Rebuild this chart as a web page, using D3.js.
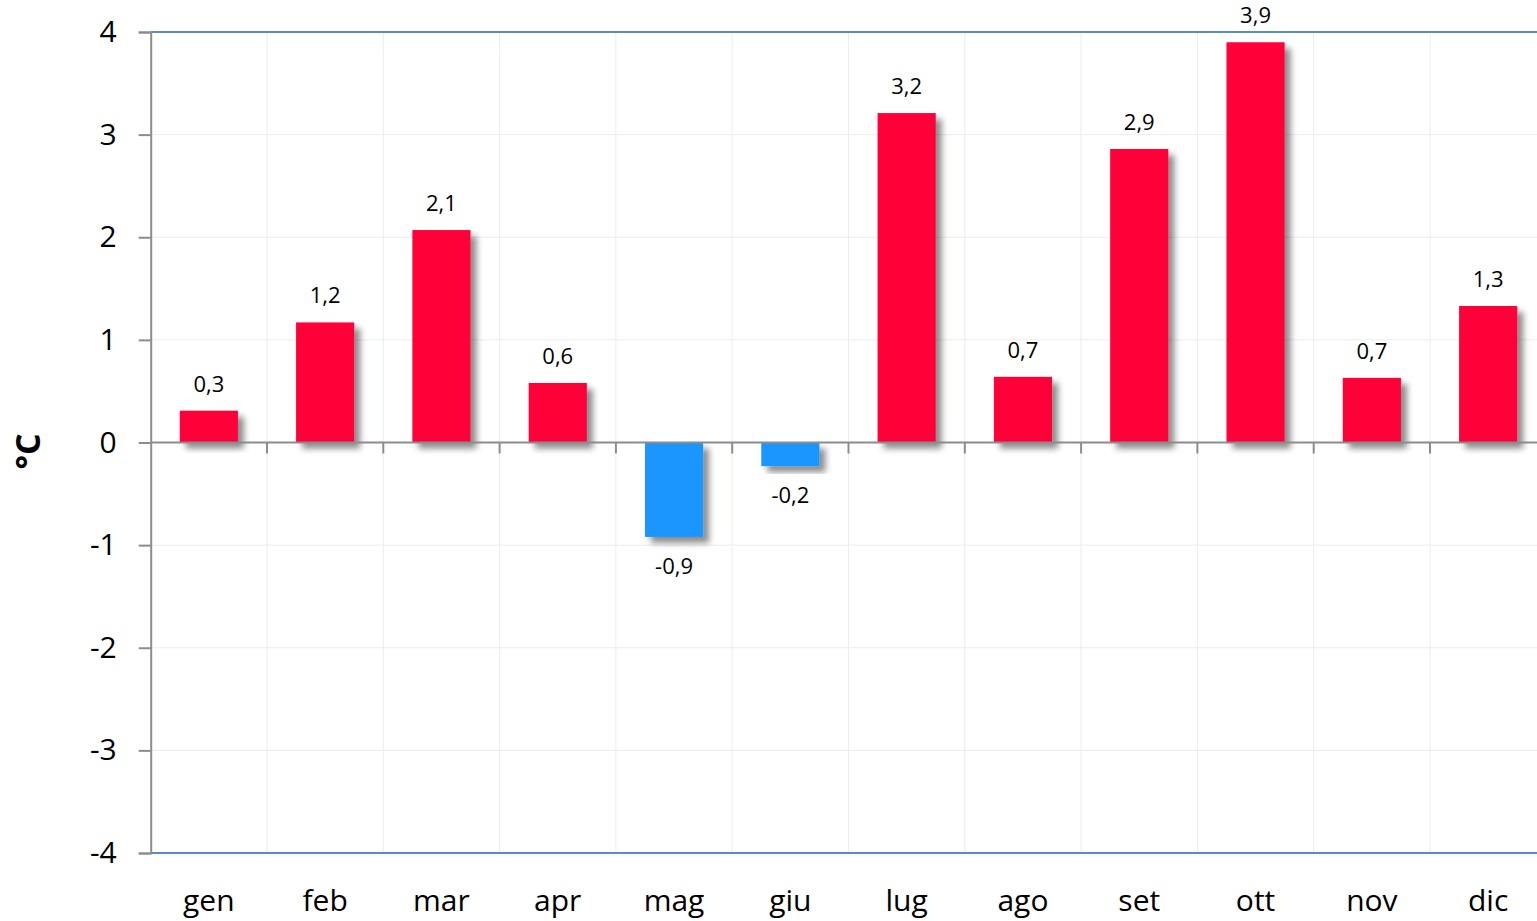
<!DOCTYPE html>
<html>
<head>
<meta charset="utf-8">
<script src="https://cdn.jsdelivr.net/npm/d3@7/dist/d3.min.js"></script>
<style>
  body { margin: 0; background: #fff; }
  svg text { font-family: "Open Sans", "Noto Sans", sans-serif; fill: #000; }
</style>
</head>
<body>
<div id="chart"></div>
<script>
// months
var months = ['gen', 'feb', 'mar', 'apr', 'mag', 'giu', 'lug', 'ago', 'set', 'ott', 'nov', 'dic'];
// anomaly values (°C)
var anomalies = [0.31, 1.17, 2.07, 0.58, -0.92, -0.23, 3.21, 0.64, 2.86, 3.90, 0.63, 1.33];
// labels as printed above the bars
var barLabels = ['0,3', '1,2', '2,1', '0,6', '-0,9', '-0,2', '3,2', '0,7', '2,9', '3,9', '0,7', '1,3'];
var yTicks = [-4, -3, -2, -1, 0, 1, 2, 3, 4];

var width = 1537, height = 921;
var plotLeft = 150.7, plotRight = 1546.3, plotTop = 32, plotBottom = 853;

var svg = d3.select('#chart')
    .append('svg')
    .attr('width', width)
    .attr('height', height);

// drop shadow for bars
var filter = svg.append('defs').append('filter')
    .attr('id', 'shadow')
    .attr('x', '-20%').attr('y', '-20%')
    .attr('width', '150%').attr('height', '150%');
filter.append('feDropShadow')
    .attr('dx', 6).attr('dy', 6)
    .attr('stdDeviation', 3)
    .attr('flood-color', '#000')
    .attr('flood-opacity', 0.45);

var x = d3.scaleBand()
    .domain(months)
    .range([plotLeft, plotRight])
    .paddingInner(0.5)
    .paddingOuter(0.25);

var y = d3.scaleLinear()
    .domain([-4, 4])
    .range([plotBottom, plotTop]);

// horizontal gridlines
svg.append('g')
    .selectAll('line')
    .data(yTicks)
    .enter()
    .append('line')
    .attr('x1', plotLeft).attr('x2', plotRight)
    .attr('y1', function(d) { return y(d); })
    .attr('y2', function(d) { return y(d); })
    .attr('stroke', '#ececec')
    .attr('stroke-width', 1);

// vertical gridlines at category borders
var borders = months.slice(1).map(function(m) { return x(m) - x.step() * 0.25; });
svg.append('g')
    .selectAll('line')
    .data(borders)
    .enter()
    .append('line')
    .attr('x1', function(d) { return d; })
    .attr('x2', function(d) { return d; })
    .attr('y1', plotTop).attr('y2', plotBottom)
    .attr('stroke', '#ececec')
    .attr('stroke-width', 1);

// top and bottom border lines
svg.append('line')
    .attr('x1', plotLeft).attr('x2', plotRight)
    .attr('y1', y(4)).attr('y2', y(4))
    .attr('stroke', '#5b8ac9').attr('stroke-width', 2);
svg.append('line')
    .attr('x1', plotLeft).attr('x2', plotRight)
    .attr('y1', y(-4)).attr('y2', y(-4))
    .attr('stroke', '#5b8ac9').attr('stroke-width', 2);

// bars
svg.append('g')
    .selectAll('rect')
    .data(anomalies)
    .enter()
    .append('rect')
    .attr('x', function(d, i) { return x(months[i]); })
    .attr('width', x.bandwidth())
    .attr('y', function(d) { return y(Math.max(0, d)); })
    .attr('height', function(d) { return Math.abs(y(d) - y(0)); })
    .attr('fill', function(d) { return d >= 0 ? '#ff0538' : '#1a96ff'; })
    .attr('filter', 'url(#shadow)');

// zero line with ticks
svg.append('line')
    .attr('x1', plotLeft).attr('x2', plotRight)
    .attr('y1', y(0)).attr('y2', y(0))
    .attr('stroke', '#8c8c8c').attr('stroke-width', 2);
svg.append('g')
    .selectAll('line')
    .data(borders)
    .enter()
    .append('line')
    .attr('x1', function(d) { return d; })
    .attr('x2', function(d) { return d; })
    .attr('y1', y(0)).attr('y2', y(0) + 11)
    .attr('stroke', '#8c8c8c').attr('stroke-width', 2);

// y axis
var yAxis = d3.axisLeft(y)
    .tickValues(yTicks)
    .tickSize(12)
    .tickPadding(22)
    .tickFormat(function(d) { return String(d); });
var yAxisG = svg.append('g')
    .attr('class', 'y-axis axis')
    .attr('transform', 'translate(' + plotLeft + ',0)')
    .call(yAxis);
yAxisG.select('.domain').attr('stroke', '#8c8c8c').attr('stroke-width', 2);
yAxisG.selectAll('.tick line').attr('stroke', '#8c8c8c').attr('stroke-width', 2);
yAxisG.selectAll('.tick text')
    .attr('font-size', 30)
    .attr('font-family', '"Open Sans", sans-serif')
    .attr('fill', '#000');

// month labels
svg.append('g')
    .selectAll('text')
    .data(months)
    .enter()
    .append('text')
    .attr('x', function(d) { return x(d) + x.bandwidth() / 2; })
    .attr('y', 911)
    .attr('text-anchor', 'middle')
    .attr('font-size', 30)
    .text(function(d) { return d; });

// value labels
svg.append('g')
    .selectAll('text')
    .data(anomalies)
    .enter()
    .append('text')
    .attr('x', function(d, i) { return x(months[i]) + x.bandwidth() / 2; })
    .attr('y', function(d) { return d >= 0 ? y(d) - 19 : y(d) + 37; })
    .attr('text-anchor', 'middle')
    .attr('font-size', 22)
    .text(function(d, i) { return barLabels[i]; });

// y axis title
svg.append('text')
    .attr('transform', 'translate(40,' + (y(0) + 9) + ') rotate(-90)')
    .attr('text-anchor', 'middle')
    .attr('font-size', 34)
    .attr('font-weight', 'bold')
    .text('°C');
</script>
</body>
</html>
